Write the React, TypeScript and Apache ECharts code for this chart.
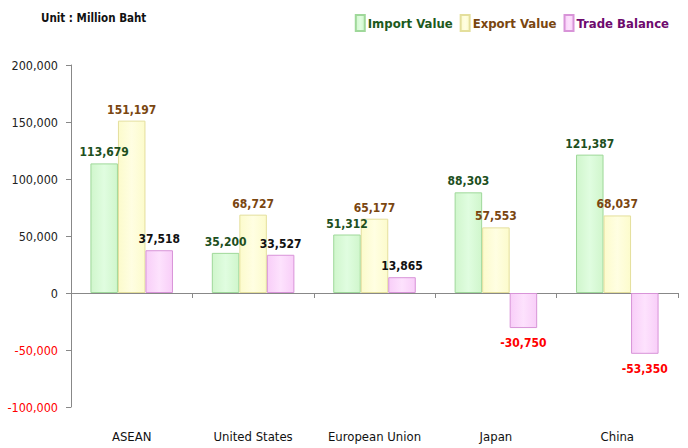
import React, { useEffect, useRef } from "react";
import * as echarts from "echarts";

const categories = ["ASEAN", "United States", "European Union", "Japan", "China"];
const importValues = [113679, 35200, 51312, 88303, 121387];
const exportValues = [151197, 68727, 65177, 57553, 68037];
const balanceValues = [37518, 33527, 13865, -30750, -53350];
const seriesNames = ["Import Value", "Export Value", "Trade Balance"];
const yTicks = { min: -100000, max: 200000, interval: 50000 };

const FONT = "'DejaVu Sans Condensed', 'Open Sans', sans-serif";
const fmt = (v: number) => v.toLocaleString("en-US");

const grad = (edge: string, mid: string) =>
  new echarts.graphic.LinearGradient(0, 0, 1, 0, [
    { offset: 0, color: edge },
    { offset: 0.5, color: mid },
    { offset: 1, color: edge },
  ]);

export default function App() {
  const ref = useRef<HTMLDivElement>(null);
  useEffect(() => {
    if (!ref.current) return;
    const chart = echarts.init(ref.current, undefined, { renderer: "svg" });
    const labelBase = {
      show: true,
      position: "top" as const,
      fontFamily: FONT,
      fontWeight: "bold" as const,
      fontSize: 12,
      distance: 5,
      formatter: (p: any) => fmt(p.value),
    };
    chart.setOption({
      animation: false,
      backgroundColor: "#ffffff",
      textStyle: { fontFamily: FONT },
      graphic: [
        {
          type: "text",
          left: 41,
          top: 12,
          style: { text: "Unit : Million Baht", font: `bold 11.5px ${FONT}`, fill: "#111" },
        },
      ],
      legend: {
        top: 9,
        right: 14,
        icon: "rect",
        itemWidth: 9,
        itemHeight: 16,
        itemGap: 7,
        textStyle: { fontFamily: FONT, fontSize: 13, fontWeight: "bold", padding: [0, 0, 0, -2] },
        data: [
          { name: seriesNames[0], textStyle: { color: "#1d5a1d" } },
          { name: seriesNames[1], textStyle: { color: "#7a4610" } },
          { name: seriesNames[2], textStyle: { color: "#6e0a6e" } },
        ],
      },
      grid: { left: 71, right: 10, top: 65, bottom: 41, containLabel: false },
      xAxis: [
        {
          type: "category",
          data: categories,
          axisLine: { onZero: true, lineStyle: { color: "#888", width: 1 } },
          axisTick: { show: true, alignWithLabel: false, length: 5, lineStyle: { color: "#888" } },
          axisLabel: { show: false },
        },
        {
          type: "category",
          data: categories,
          position: "bottom",
          axisLine: { show: false },
          axisTick: { show: false },
          axisLabel: { show: true, interval: 0, color: "#111", fontSize: 13, fontFamily: FONT, margin: 23 },
        },
      ],
      yAxis: {
        type: "value",
        min: yTicks.min,
        max: yTicks.max,
        interval: yTicks.interval,
        axisLine: { show: true, lineStyle: { color: "#888" } },
        axisTick: { show: true, length: 5, lineStyle: { color: "#888" } },
        splitLine: { show: false },
        axisLabel: {
          fontSize: 12.5,
          fontFamily: FONT,
          margin: 13,
          formatter: (v: number) => fmt(v),
          color: (v: any) => (Number(v) < 0 ? "#ff0000" : "#222"),
        },
      },
      series: [
        {
          name: seriesNames[0],
          type: "bar",
          xAxisIndex: 0,
          barGap: "0%",
          barCategoryGap: "32%",
          data: importValues,
          itemStyle: { color: grad("#d0f6cc", "#e0fde0"), borderColor: "#9fd89a", borderWidth: 1 },
          label: { ...labelBase, color: "#1d4f1d" },
        },
        {
          name: seriesNames[1],
          type: "bar",
          xAxisIndex: 0,
          data: exportValues,
          itemStyle: { color: grad("#fcfbcc", "#fffee2"), borderColor: "#e4df9c", borderWidth: 1 },
          label: { ...labelBase, color: "#7a4610" },
        },
        {
          name: seriesNames[2],
          type: "bar",
          xAxisIndex: 0,
          data: balanceValues.map((v) => ({
            value: v,
            label: {
              position: v < 0 ? "bottom" : "top",
              color: v < 0 ? "#ff0000" : "#111",
              distance: v < 0 ? 9 : 5,
            },
          })),
          itemStyle: { color: grad("#f8cef8", "#fde2fd"), borderColor: "#d894d8", borderWidth: 1 },
          label: { ...labelBase, color: "#111" },
        },
      ],
    });
    return () => chart.dispose();
  }, []);
  return (
    <div
      ref={ref}
      style={{ position: "absolute", left: 0, top: 0, width: 688, height: 448 }}
    />
  );
}
